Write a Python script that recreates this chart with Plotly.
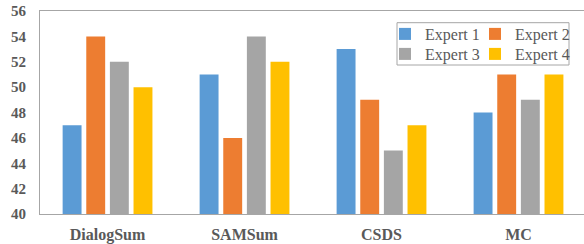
import plotly.graph_objects as go

categories = ["DialogSum", "SAMSum", "CSDS", "MC"]
series_names = ["Expert 1", "Expert 2", "Expert 3", "Expert 4"]
expert1 = [47, 51, 53, 48]
expert2 = [54, 46, 49, 51]
expert3 = [52, 54, 45, 49]
expert4 = [50, 52, 47, 51]
y_ticks = [40, 42, 44, 46, 48, 50, 52, 54, 56]

values = [expert1, expert2, expert3, expert4]
colors = ["#5B9BD5", "#ED7D31", "#A5A5A5", "#FFC000"]
legend_ids = ["legend", "legend2", "legend3", "legend4"]

W, H = 584, 244
L, R, T, B = 40, 0, 11, 30
pw, ph = W - L - R, H - T - B

def px_x(p):
    return (p - L) / pw

def px_y(p):
    return (H - B - p) / ph

fig = go.Figure()
for name, vals, col, lg in zip(series_names, values, colors, legend_ids):
    fig.add_trace(go.Bar(
        x=categories, y=vals, name=name, legend=lg,
        marker=dict(color=col, line=dict(width=0)),
    ))

text_col = "#595959"
axis_col = "#A6A6A6"
serif = "Liberation Serif, Times New Roman, serif"

legend_common = dict(
    orientation="h", xanchor="left", yanchor="top",
    font=dict(family=serif, size=16, color=text_col),
    bgcolor="rgba(0,0,0,0)", borderwidth=0,
    itemwidth=30,
)

col_x = [385, 475]
row_y = [17, 37]

fig.update_layout(
    width=W, height=H,
    margin=dict(l=L, r=R, t=T, b=B, pad=0, autoexpand=False),
    paper_bgcolor="white", plot_bgcolor="white",
    barmode="group", bargap=0.31, bargroupgap=0.2,
    font=dict(family=serif, color=text_col),
    showlegend=True,
    legend=dict(x=px_x(col_x[0]), y=px_y(row_y[0]), **legend_common),
    legend2=dict(x=px_x(col_x[1]), y=px_y(row_y[0]), **legend_common),
    legend3=dict(x=px_x(col_x[0]), y=px_y(row_y[1]), **legend_common),
    legend4=dict(x=px_x(col_x[1]), y=px_y(row_y[1]), **legend_common),
    xaxis=dict(
        range=[-0.493, 3.478], showgrid=False, zeroline=False,
        showline=True, linecolor=axis_col, linewidth=1, mirror=True,
        ticks="", tickfont=dict(family=serif, size=16, color=text_col, weight="bold"),
        ticklabelstandoff=6,
    ),
    yaxis=dict(
        range=[40, 56], tickvals=y_ticks, showgrid=False, zeroline=False,
        showline=True, linecolor=axis_col, linewidth=1,
        ticks="", tickfont=dict(family=serif, size=15, color=text_col, weight="bold"),
        ticklabelstandoff=10,
    ),
    shapes=[dict(
        type="rect", xref="paper", yref="paper",
        x0=px_x(397), x1=px_x(569), y0=px_y(65), y1=px_y(22.7),
        line=dict(color=axis_col, width=1), fillcolor="rgba(0,0,0,0)",
    )],
)

fig.write_html(
    "out.html",
    config={"displayModeBar": False},
    post_script="document.body.style.margin='0';",
)
